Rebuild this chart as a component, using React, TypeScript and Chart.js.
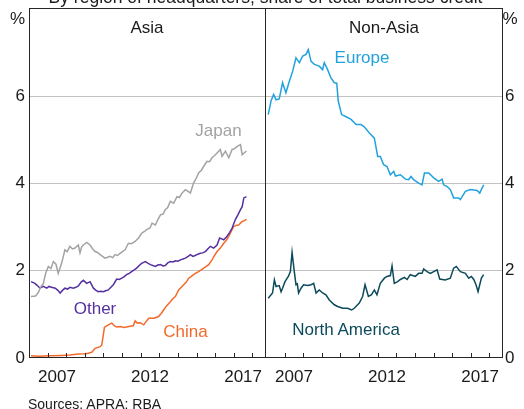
import React, { useEffect, useRef } from "react";
import { Chart, registerables } from "chart.js";

Chart.register(...registerables);

const FONT = '"Liberation Sans", Arial, Helvetica, sans-serif';
const TEXT = "#1a1a1a";
const FRAME = "#262626";
const GRID = "#c2c2c2";

const X_MIN = 2006;
const X_MAX = 2018.73;
const Y_MIN = 0;
const Y_MAX = 8;
const yTicks = [0, 2, 4, 6];
const tickYears = [2007, 2008, 2009, 2010, 2011, 2012, 2013, 2014, 2015, 2016, 2017, 2018];
const xLabelYears = [2007, 2012, 2017];

const COLORS = {
  japan: "#a3a3a3",
  other: "#5530a0",
  china: "#f4692a",
  europe: "#22a2dd",
  northAmerica: "#0c4a5b",
};

// ---- Asia panel ----
const japanDates = [2006.11, 2006.35, 2006.5, 2006.62, 2006.77, 2006.9, 2007.04, 2007.18, 2007.31, 2007.45, 2007.57, 2007.75, 2007.93, 2008.05, 2008.2, 2008.33, 2008.47, 2008.65, 2008.74, 2008.83, 2008.92, 2009.1, 2009.28, 2009.42, 2009.55, 2009.68, 2009.82, 2009.95, 2010.08, 2010.22, 2010.35, 2010.5, 2010.62, 2010.75, 2010.89, 2011.02, 2011.16, 2011.34, 2011.5, 2011.7, 2011.88, 2012.05, 2012.2, 2012.34, 2012.5, 2012.61, 2012.79, 2012.93, 2013.06, 2013.2, 2013.32, 2013.45, 2013.59, 2013.77, 2013.95, 2014.08, 2014.22, 2014.4, 2014.55, 2014.67, 2014.84, 2014.98, 2015.11, 2015.25, 2015.38, 2015.56, 2015.7, 2015.83, 2015.97, 2016.1, 2016.28, 2016.37, 2016.55, 2016.73, 2016.91, 2017.05, 2017.18, 2017.36, 2017.45, 2017.55, 2017.68];
const japanValues = [1.41, 1.42, 1.5, 1.62, 1.71, 1.95, 2.1, 2.05, 2.21, 2.15, 1.94, 2.17, 2.48, 2.44, 2.56, 2.5, 2.52, 2.59, 2.41, 2.55, 2.59, 2.65, 2.59, 2.5, 2.44, 2.42, 2.37, 2.33, 2.29, 2.31, 2.33, 2.3, 2.37, 2.35, 2.4, 2.44, 2.48, 2.63, 2.62, 2.67, 2.75, 2.86, 2.9, 2.95, 2.98, 3.09, 3.05, 3.18, 3.28, 3.3, 3.4, 3.45, 3.59, 3.55, 3.7, 3.68, 3.78, 3.86, 3.82, 3.78, 4.01, 4.12, 4.24, 4.3, 4.39, 4.51, 4.5, 4.59, 4.64, 4.7, 4.78, 4.62, 4.74, 4.59, 4.78, 4.8, 4.85, 4.89, 4.66, 4.7, 4.74];

const otherDates = [2006.11, 2006.32, 2006.45, 2006.59, 2006.77, 2006.95, 2007.08, 2007.21, 2007.41, 2007.55, 2007.67, 2007.8, 2007.93, 2008.07, 2008.2, 2008.38, 2008.52, 2008.65, 2008.8, 2008.92, 2009.1, 2009.28, 2009.46, 2009.6, 2009.72, 2009.85, 2009.99, 2010.12, 2010.26, 2010.4, 2010.53, 2010.71, 2010.85, 2010.98, 2011.1, 2011.24, 2011.38, 2011.51, 2011.65, 2011.78, 2011.92, 2012.05, 2012.25, 2012.4, 2012.52, 2012.65, 2012.79, 2012.92, 2013.06, 2013.2, 2013.32, 2013.45, 2013.59, 2013.73, 2013.86, 2014.0, 2014.13, 2014.27, 2014.4, 2014.55, 2014.67, 2014.8, 2014.93, 2015.07, 2015.2, 2015.33, 2015.47, 2015.6, 2015.74, 2015.92, 2016.1, 2016.24, 2016.35, 2016.46, 2016.64, 2016.78, 2016.91, 2017.09, 2017.22, 2017.36, 2017.45, 2017.54, 2017.68];
const otherValues = [1.75, 1.71, 1.66, 1.6, 1.64, 1.6, 1.64, 1.62, 1.6, 1.55, 1.49, 1.55, 1.6, 1.58, 1.62, 1.6, 1.62, 1.65, 1.74, 1.78, 1.71, 1.75, 1.6, 1.55, 1.52, 1.53, 1.52, 1.54, 1.56, 1.62, 1.68, 1.81, 1.8, 1.83, 1.86, 1.91, 1.94, 1.98, 2.02, 2.06, 2.12, 2.17, 2.21, 2.17, 2.14, 2.12, 2.1, 2.13, 2.14, 2.11, 2.12, 2.18, 2.21, 2.2, 2.23, 2.22, 2.25, 2.27, 2.29, 2.33, 2.37, 2.33, 2.35, 2.38, 2.4, 2.41, 2.44, 2.5, 2.56, 2.52, 2.59, 2.75, 2.73, 2.71, 2.79, 2.88, 2.98, 3.18, 3.28, 3.4, 3.47, 3.67, 3.7];

const chinaDates = [2006.11, 2006.5, 2007.14, 2007.75, 2008.2, 2008.65, 2009.0, 2009.19, 2009.4, 2009.5, 2009.56, 2009.82, 2009.91, 2010.0, 2010.05, 2010.26, 2010.45, 2010.58, 2010.7, 2010.91, 2011.1, 2011.23, 2011.44, 2011.6, 2011.7, 2011.82, 2011.98, 2012.16, 2012.3, 2012.43, 2012.7, 2012.96, 2013.1, 2013.23, 2013.4, 2013.59, 2013.72, 2013.86, 2014.04, 2014.18, 2014.31, 2014.45, 2014.58, 2014.72, 2014.84, 2014.98, 2015.11, 2015.25, 2015.38, 2015.52, 2015.65, 2015.83, 2015.97, 2016.1, 2016.28, 2016.46, 2016.6, 2016.73, 2016.86, 2016.99, 2017.12, 2017.26, 2017.45, 2017.57, 2017.68];
const chinaValues = [0.05, 0.04, 0.05, 0.06, 0.07, 0.09, 0.1, 0.11, 0.14, 0.2, 0.22, 0.26, 0.3, 0.55, 0.7, 0.76, 0.8, 0.74, 0.71, 0.72, 0.7, 0.71, 0.73, 0.74, 0.85, 0.8, 0.81, 0.76, 0.84, 0.91, 0.91, 0.95, 1.02, 1.1, 1.2, 1.29, 1.36, 1.41, 1.56, 1.62, 1.68, 1.74, 1.83, 1.87, 1.91, 1.95, 1.98, 2.02, 2.06, 2.1, 2.14, 2.25, 2.35, 2.44, 2.52, 2.63, 2.7, 2.79, 2.9, 3.01, 3.04, 3.05, 3.13, 3.15, 3.18];

// ---- Non-Asia panel ----
const europeDates = [2006.12, 2006.27, 2006.41, 2006.54, 2006.71, 2006.89, 2007.07, 2007.25, 2007.43, 2007.61, 2007.79, 2007.97, 2008.15, 2008.27, 2008.42, 2008.6, 2008.86, 2009.04, 2009.13, 2009.31, 2009.49, 2009.67, 2009.8, 2009.88, 2010.06, 2010.3, 2010.57, 2010.84, 2011.1, 2011.28, 2011.55, 2011.82, 2012.0, 2012.14, 2012.32, 2012.5, 2012.68, 2012.86, 2012.95, 2013.22, 2013.49, 2013.66, 2013.79, 2013.93, 2014.2, 2014.38, 2014.51, 2014.74, 2015.01, 2015.27, 2015.46, 2015.54, 2015.73, 2015.9, 2016.08, 2016.35, 2016.44, 2016.71, 2016.98, 2017.34, 2017.48, 2017.61, 2017.7];
const europeValues = [5.58, 5.89, 6.04, 5.92, 5.94, 6.31, 6.08, 6.34, 6.57, 6.88, 6.77, 6.92, 6.96, 7.07, 6.8, 6.73, 6.69, 6.61, 6.77, 6.61, 6.42, 6.31, 6.3, 5.89, 5.58, 5.53, 5.47, 5.35, 5.35, 5.3, 5.16, 5.04, 4.62, 4.62, 4.43, 4.39, 4.2, 4.28, 4.17, 4.2, 4.1, 4.09, 4.16, 4.09, 4.01, 3.97, 4.24, 4.24, 4.13, 4.05, 4.1, 3.97, 3.93, 3.86, 3.67, 3.67, 3.63, 3.82, 3.86, 3.84, 3.78, 3.9, 3.97];

const northAmericaDates = [2006.12, 2006.35, 2006.45, 2006.54, 2006.71, 2006.81, 2006.89, 2007.02, 2007.2, 2007.31, 2007.4, 2007.52, 2007.61, 2007.68, 2007.75, 2007.88, 2008.02, 2008.24, 2008.42, 2008.56, 2008.69, 2008.86, 2009.04, 2009.22, 2009.4, 2009.67, 2009.85, 2010.12, 2010.38, 2010.6, 2010.74, 2011.01, 2011.19, 2011.32, 2011.5, 2011.67, 2011.82, 2011.96, 2012.14, 2012.36, 2012.5, 2012.68, 2012.77, 2012.89, 2013.07, 2013.22, 2013.43, 2013.58, 2013.75, 2014.02, 2014.2, 2014.38, 2014.47, 2014.65, 2014.83, 2015.01, 2015.19, 2015.33, 2015.63, 2015.9, 2016.08, 2016.22, 2016.44, 2016.71, 2016.89, 2017.03, 2017.16, 2017.28, 2017.39, 2017.48, 2017.57, 2017.69];
const northAmericaValues = [1.37, 1.49, 1.79, 1.64, 1.66, 1.52, 1.6, 1.75, 1.87, 1.98, 2.42, 1.98, 1.68, 1.7, 1.49, 1.6, 1.68, 1.66, 1.68, 1.71, 1.49, 1.56, 1.49, 1.45, 1.33, 1.22, 1.18, 1.14, 1.14, 1.1, 1.14, 1.26, 1.41, 1.68, 1.41, 1.45, 1.56, 1.45, 1.71, 1.83, 1.87, 1.89, 2.11, 1.71, 1.75, 1.8, 1.85, 1.8, 1.91, 1.87, 1.94, 1.94, 2.04, 1.98, 1.94, 1.98, 2.02, 1.81, 1.79, 1.83, 2.06, 2.1, 1.98, 1.94, 1.83, 1.87, 1.8, 1.68, 1.52, 1.68, 1.83, 1.91];

const toPoints = (dates: number[], values: number[]) =>
  dates.map((d, i) => ({ x: d, y: values[i] }));

const lineDataset = (dates: number[], values: number[], color: string) => ({
  data: toPoints(dates, values),
  borderColor: color,
  borderWidth: 1.5,
  pointRadius: 0,
  tension: 0,
  fill: false,
});

const framePlugin = (side: "left" | "right") => ({
  id: "panelFrame",
  afterDraw(chart: any) {
    const { ctx, chartArea: a, scales } = chart;
    const xs = scales.x;
    ctx.save();
    ctx.strokeStyle = FRAME;
    ctx.lineWidth = 1;
    ctx.beginPath();
    for (const yr of tickYears) {
      const px = Math.round(xs.getPixelForValue(yr)) + 0.5;
      ctx.moveTo(px, a.bottom);
      ctx.lineTo(px, a.bottom - 5);
    }
    ctx.stroke();
    ctx.beginPath();
    const top = a.top - 0.5;
    const bottom = a.bottom - 0.5;
    if (side === "left") {
      ctx.moveTo(a.left + 0.5, top);
      ctx.lineTo(a.left + 0.5, bottom);
      ctx.moveTo(a.right - 0.5, top);
      ctx.lineTo(a.right - 0.5, bottom);
      ctx.moveTo(a.left, top);
      ctx.lineTo(a.right + 1, top);
      ctx.moveTo(a.left, bottom);
      ctx.lineTo(a.right + 1, bottom);
    } else {
      ctx.moveTo(a.right - 0.5, top);
      ctx.lineTo(a.right - 0.5, bottom);
      ctx.moveTo(a.left, top);
      ctx.lineTo(a.right, top);
      ctx.moveTo(a.left, bottom);
      ctx.lineTo(a.right, bottom);
    }
    ctx.stroke();
    ctx.restore();
  },
});

const makeConfig = (side: "left" | "right", datasets: any[]) => ({
  type: "line" as const,
  data: { datasets },
  plugins: [framePlugin(side)],
  options: {
    responsive: false,
    maintainAspectRatio: false,
    animation: false as const,
    events: [],
    layout: { padding: { top: 9, left: 0, right: side === "left" ? 1 : 0, bottom: 0 } },
    plugins: { legend: { display: false }, tooltip: { enabled: false }, title: { display: false } },
    scales: {
      x: {
        type: "linear" as const,
        min: X_MIN,
        max: X_MAX,
        afterBuildTicks: (axis: any) => {
          axis.ticks = xLabelYears.map((y) => ({ value: y + 0.5 }));
        },
        afterFit: (axis: any) => {
          axis.height = 51;
          axis.paddingLeft = 0;
          axis.paddingRight = 0;
        },
        grid: { display: false, drawTicks: false },
        border: { display: false },
        ticks: {
          autoSkip: false,
          maxRotation: 0,
          padding: 9,
          color: TEXT,
          font: { family: FONT, size: 17 },
          callback: (v: any) => String(Math.floor(Number(v))),
        },
      },
      y: {
        type: "linear" as const,
        position: side,
        min: Y_MIN,
        max: Y_MAX,
        afterBuildTicks: (axis: any) => {
          axis.ticks = yTicks.map((v) => ({ value: v }));
        },
        afterFit: (axis: any) => {
          axis.width = side === "left" ? 29 : 21;
          axis.paddingTop = 0;
          axis.paddingBottom = 0;
        },
        grid: {
          drawTicks: false,
          color: (c: any) => (c.tick && c.tick.value === 0 ? "rgba(0,0,0,0)" : GRID),
          lineWidth: 1,
        },
        border: { display: false },
        ticks: {
          padding: side === "left" ? 4 : 2,
          color: TEXT,
          font: { family: FONT, size: 17 },
          callback: (v: any) => String(v),
        },
      },
    },
  },
});

const Label = ({ x, y, text, color, size = 17 }: { x: number; y: number; text: string; color: string; size?: number }) => (
  <div
    style={{
      position: "absolute",
      left: x,
      top: y,
      transform: "translate(-50%, -50%)",
      color,
      fontFamily: FONT,
      fontSize: size,
      lineHeight: `${size}px`,
      whiteSpace: "nowrap",
    }}
  >
    {text}
  </div>
);

export default function App() {
  const leftRef = useRef<HTMLCanvasElement>(null);
  const rightRef = useRef<HTMLCanvasElement>(null);

  useEffect(() => {
    const left = new Chart(
      leftRef.current as HTMLCanvasElement,
      makeConfig("left", [
        lineDataset(japanDates, japanValues, COLORS.japan),
        lineDataset(otherDates, otherValues, COLORS.other),
        lineDataset(chinaDates, chinaValues, COLORS.china),
      ]) as any
    );
    const right = new Chart(
      rightRef.current as HTMLCanvasElement,
      makeConfig("right", [
        lineDataset(europeDates, europeValues, COLORS.europe),
        lineDataset(northAmericaDates, northAmericaValues, COLORS.northAmerica),
      ]) as any
    );
    return () => {
      left.destroy();
      right.destroy();
    };
  }, []);

  return (
    <div
      style={{
        position: "absolute",
        left: 0,
        top: 0,
        width: 524,
        height: 409,
        overflow: "hidden",
        background: "#ffffff",
        fontFamily: FONT,
      }}
    >
      <canvas ref={leftRef} width={267} height={409} style={{ position: "absolute", left: 0, top: 0, display: "block" }} />
      <canvas ref={rightRef} width={258} height={409} style={{ position: "absolute", left: 266, top: 0, display: "block" }} />
      <div
        style={{
          position: "absolute",
          left: 265.5,
          top: -11,
          transform: "translateX(-50%)",
          fontSize: 17.5,
          lineHeight: "17.5px",
          color: TEXT,
          whiteSpace: "nowrap",
        }}
      >
        By region of headquarters; share of total business credit
      </div>
      <Label x={17.5} y={17.5} text="%" color={TEXT} />
      <Label x={510} y={17.5} text="%" color={TEXT} />
      <Label x={147} y={27} text="Asia" color={TEXT} />
      <Label x={384} y={27} text="Non-Asia" color={TEXT} />
      <Label x={218.5} y={130} text="Japan" color={COLORS.japan} />
      <Label x={95} y={307.5} text="Other" color={COLORS.other} />
      <Label x={185.5} y={331} text="China" color={COLORS.china} />
      <Label x={362} y={56.5} text="Europe" color={COLORS.europe} />
      <Label x={346} y={328.5} text="North America" color={COLORS.northAmerica} />
      <div
        style={{
          position: "absolute",
          left: 28,
          top: 397,
          fontSize: 14,
          lineHeight: "14px",
          color: TEXT,
          whiteSpace: "nowrap",
        }}
      >
        Sources: APRA: RBA
      </div>
    </div>
  );
}
